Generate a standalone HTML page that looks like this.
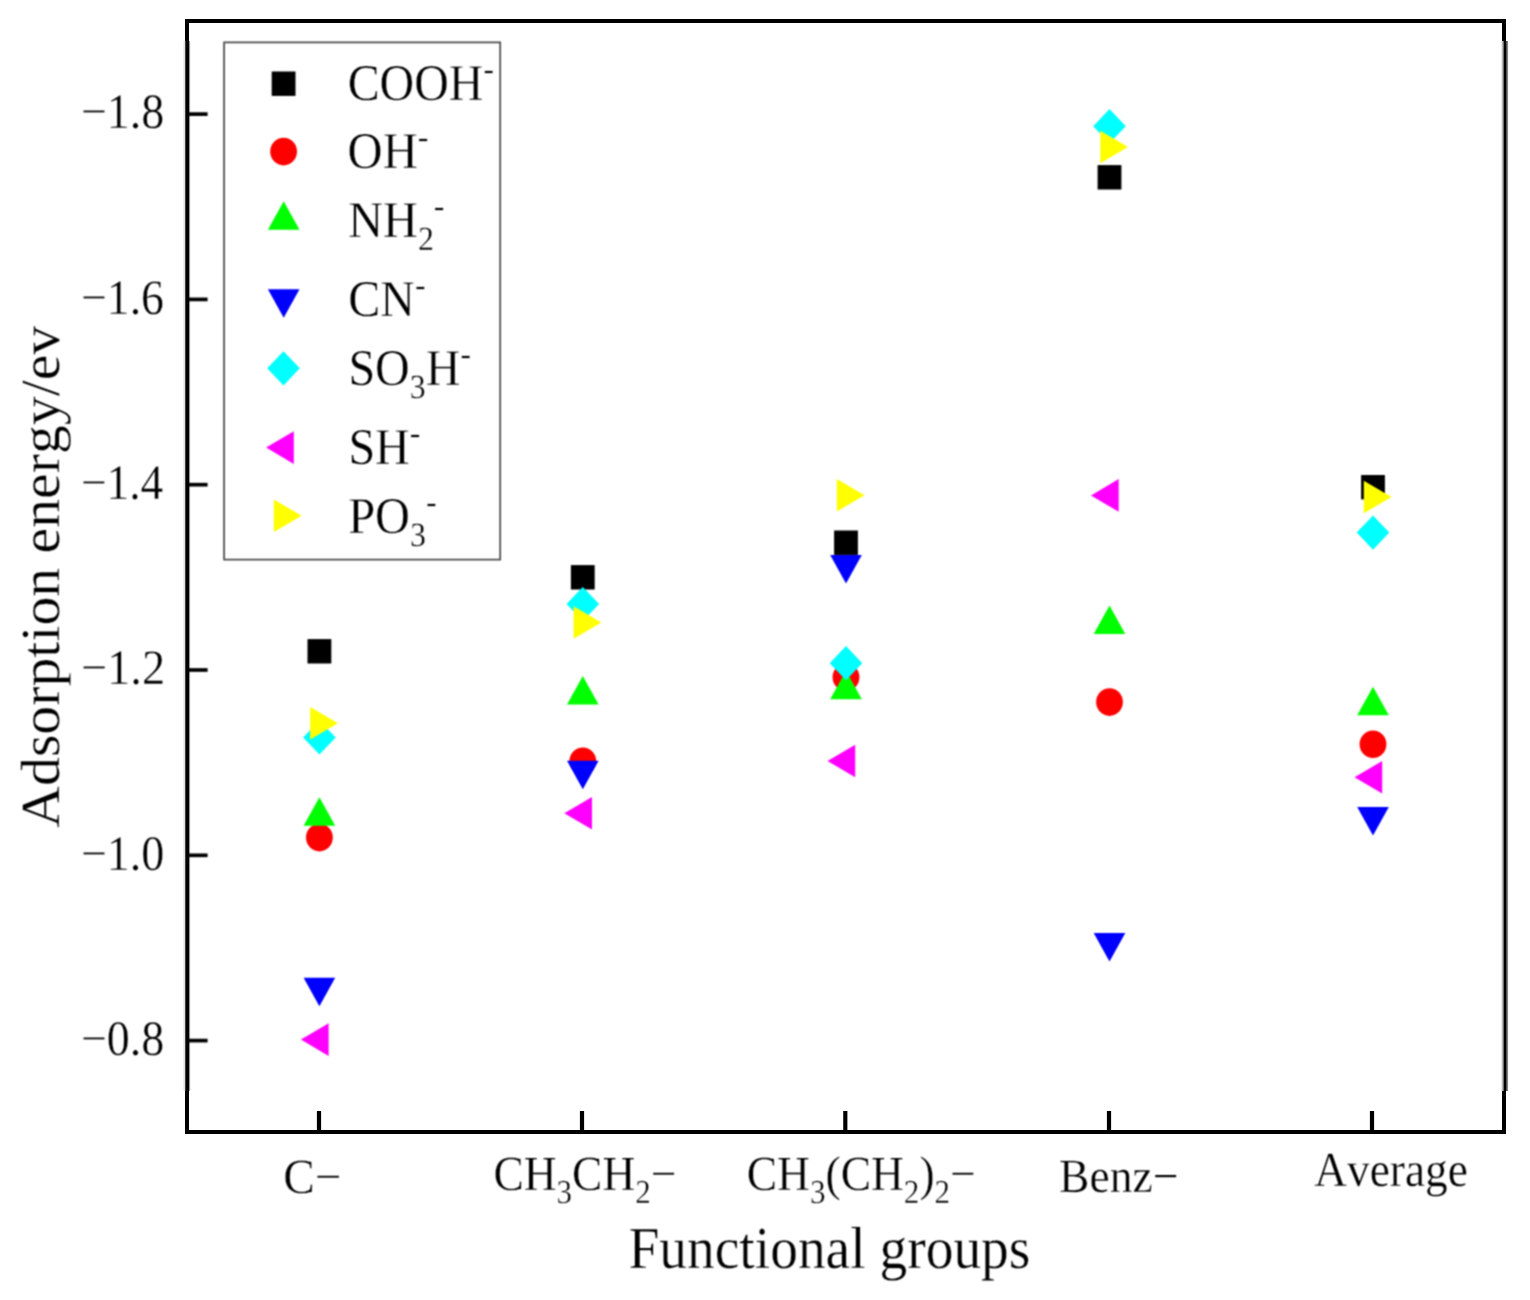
<!DOCTYPE html>
<html lang="en">
<head>
<meta charset="utf-8">
<title>Adsorption energy of functional groups</title>
<style>
html,body{margin:0;padding:0;background:#fff;}
body{width:1530px;height:1300px;overflow:hidden;}
svg{display:block;}
text{white-space:pre;font-kerning:none;font-variant-ligatures:none;text-rendering:geometricPrecision;}
</style>
</head>
<body>
<svg width="1530" height="1300" viewBox="0 0 1530 1300">
<defs>
<filter id="b0" x="-5%" y="-5%" width="110%" height="110%" color-interpolation-filters="sRGB"><feConvolveMatrix order="3" kernelMatrix="1 2 1 2 4 2 1 2 1" edgeMode="none" preserveAlpha="false"/></filter>
</defs>
<rect width="1530" height="1300" fill="#fff"/>
<rect x="187.0" y="21.0" width="1317" height="1111" fill="none" stroke="#000" stroke-width="4"/>
<g shape-rendering="crispEdges">
<rect x="1501" y="41" width="1" height="1050" fill="#ececec"/>
<rect x="1502" y="41" width="1" height="1050" fill="#b6b6b6"/>
<rect x="1503" y="41" width="1" height="1050" fill="#707070"/>
<rect x="1504" y="41" width="1" height="1050" fill="#000000"/>
<rect x="1505" y="41" width="1" height="1050" fill="#000000"/>
<rect x="1506" y="41" width="1" height="1050" fill="#525252"/>
<rect x="1507" y="41" width="1" height="1050" fill="#848484"/>
<rect x="1508" y="41" width="1" height="1050" fill="#f8f8f8"/>
<rect x="183" y="41" width="1" height="1050" fill="#f0f0f0"/>
<rect x="184" y="41" width="1" height="1050" fill="#e2e2e2"/>
<rect x="185" y="41" width="1" height="1050" fill="#404040"/>
<rect x="186" y="41" width="1" height="1050" fill="#000000"/>
<rect x="187" y="41" width="1" height="1050" fill="#000000"/>
<rect x="188" y="41" width="1" height="1050" fill="#000000"/>
<rect x="189" y="41" width="1" height="1050" fill="#969696"/>
<rect x="190" y="41" width="1" height="1050" fill="#f2f2f2"/>
</g>
<g stroke="#000" stroke-width="3.7" fill="none" filter="url(#b0)">
<path d="M188 114.1H207.6"/>
<path d="M188 299.4H207.6"/>
<path d="M188 484.7H207.6"/>
<path d="M188 670.0H207.6"/>
<path d="M188 855.3H207.6"/>
<path d="M188 1040.6H207.6"/>
</g>
<g stroke="#000" stroke-width="4.2" fill="none">
<path d="M319.0 1111V1130"/>
<path d="M582.0 1111V1130"/>
<path d="M845.3 1111V1130"/>
<path d="M1109.0 1111V1130"/>
<path d="M1372.0 1111V1130"/>
</g>
<g font-family="'Liberation Serif', serif" fill="#000" stroke="#fff" stroke-width="0.35" filter="url(#b0)">
<text transform="translate(80.91 128.40) scale(0.9293 1)" font-size="49.5">−1.8</text>
<text transform="translate(80.92 313.70) scale(0.9249 1)" font-size="49.5">−1.6</text>
<text transform="translate(80.94 499.00) scale(0.9174 1)" font-size="49.5">−1.4</text>
<text transform="translate(80.89 684.30) scale(0.9386 1)" font-size="49.5">−1.2</text>
<text transform="translate(80.91 869.60) scale(0.9293 1)" font-size="49.5">−1.0</text>
<text transform="translate(80.91 1054.90) scale(0.9293 1)" font-size="49.5">−0.8</text>
<text transform="translate(283.36 1192.50) scale(0.9640 1)" font-size="49">C−</text>
<text transform="translate(493.44 1190.00) scale(0.9271 1)" font-size="49">CH<tspan font-size="33.5" dy="12.5">3</tspan><tspan dy="-12.5">CH</tspan><tspan font-size="33.5" dy="12.5">2</tspan><tspan dy="-12.5">−</tspan></text>
<text transform="translate(746.73 1190.00) scale(0.9284 1)" font-size="49">CH<tspan font-size="33.5" dy="12.5">3</tspan><tspan dy="-12.5">(CH</tspan><tspan font-size="33.5" dy="12.5">2</tspan><tspan dy="-12.5">)</tspan><tspan font-size="33.5" dy="12.5">2</tspan><tspan dy="-12.5">−</tspan></text>
<text transform="translate(1059.09 1191.50) scale(0.9526 1)" font-size="47.8">Benz−</text>
<text transform="translate(1314.26 1186.30) scale(0.9257 1)" font-size="49" letter-spacing="0">Average</text>
<text transform="translate(628.50 1267.60) scale(0.9317 1)" font-size="59.5">Functional groups</text>
</g>
<g font-family="'Liberation Serif', serif" fill="#000" stroke="#fff" stroke-width="0.35" filter="url(#b0)">
<text transform="translate(59.0 827.66) rotate(-90) scale(0.9954 0.95)" font-size="58">Adsorption energy/ev</text>
</g>
<rect x="224.1" y="42.4" width="276.1" height="517.2" fill="#fff" stroke="#484848" stroke-width="1.7" filter="url(#b0)"/>
<g font-family="'Liberation Serif', serif" fill="#000" stroke="#fff" stroke-width="0.35" filter="url(#b0)">
<text transform="translate(347.63 100.00) scale(0.9311 1)" font-size="51.5">COOH<tspan font-size="34" dy="-19.9">-</tspan></text>
<text transform="translate(347.61 168.20) scale(0.9422 1)" font-size="51.5">OH<tspan font-size="34" dy="-19.9">-</tspan></text>
<text transform="translate(348.21 236.70) scale(0.9371 1)" font-size="51.5">NH<tspan font-size="34" dy="13">2</tspan><tspan font-size="34" dy="-32.9">-</tspan></text>
<text transform="translate(348.23 316.10) scale(0.9318 1)" font-size="51.5">CN<tspan font-size="34" dy="-19.9">-</tspan></text>
<text transform="translate(348.39 384.90) scale(0.9331 1)" font-size="51.5">SO<tspan font-size="34" dy="13">3</tspan><tspan dy="-13">H</tspan><tspan font-size="34" dy="-19.9">-</tspan></text>
<text transform="translate(348.39 463.90) scale(0.9326 1)" font-size="51.5">SH<tspan font-size="34" dy="-19.9">-</tspan></text>
<text transform="translate(348.21 533.10) scale(0.9394 1)" font-size="51.5">PO<tspan font-size="34" dy="13">3</tspan><tspan font-size="34" dy="-32.9">-</tspan></text>
</g>
<g filter="url(#b0)">
<rect x="307.5" y="639.1" width="23.8" height="24.4" fill="#000"/>
<rect x="570.9" y="565.1" width="23.8" height="24.4" fill="#000"/>
<rect x="834.1" y="530.5" width="23.8" height="24.4" fill="#000"/>
<rect x="1097.6" y="165.1" width="23.8" height="24.4" fill="#000"/>
<rect x="1361.1" y="475.0" width="23.8" height="24.4" fill="#000"/>
<ellipse cx="319.4" cy="837.6" rx="13.4" ry="13.8" fill="#f00"/>
<ellipse cx="582.8" cy="761.3" rx="13.4" ry="13.8" fill="#f00"/>
<ellipse cx="846.0" cy="677.3" rx="13.4" ry="13.8" fill="#f00"/>
<ellipse cx="1109.5" cy="702.1" rx="13.4" ry="13.8" fill="#f00"/>
<ellipse cx="1373.0" cy="744.3" rx="13.4" ry="13.8" fill="#f00"/>
<path d="M319.4 797.2L335.2 825.7H303.6Z" fill="#0f0"/>
<path d="M582.8 676.0L598.6 704.5H567.0Z" fill="#0f0"/>
<path d="M846.0 670.7L861.8 699.2H830.2Z" fill="#0f0"/>
<path d="M1109.5 605.5L1125.3 634.0H1093.7Z" fill="#0f0"/>
<path d="M1373.0 686.8L1388.8 715.3H1357.2Z" fill="#0f0"/>
<path d="M319.4 1006.3L335.2 977.8H303.6Z" fill="#00f"/>
<path d="M582.8 789.3L598.6 760.8H567.0Z" fill="#00f"/>
<path d="M846.0 583.4L861.8 554.9H830.2Z" fill="#00f"/>
<path d="M1109.5 961.6L1125.3 933.1H1093.7Z" fill="#00f"/>
<path d="M1373.0 835.5L1388.8 807.0H1357.2Z" fill="#00f"/>
<path d="M319.4 720.4L335.7 737.5L319.4 754.6L303.1 737.5Z" fill="#0ff"/>
<path d="M582.8 586.9L599.1 604.0L582.8 621.1L566.5 604.0Z" fill="#0ff"/>
<path d="M846.0 646.1L862.3 663.2L846.0 680.3L829.7 663.2Z" fill="#0ff"/>
<path d="M1109.5 109.1L1125.8 126.2L1109.5 143.3L1093.2 126.2Z" fill="#0ff"/>
<path d="M1373.0 515.5L1389.3 532.6L1373.0 549.7L1356.7 532.6Z" fill="#0ff"/>
<path d="M300.9 1039.6L328.6 1023.3V1055.9Z" fill="#f0f"/>
<path d="M564.3 813.3L592.0 797.0V829.6Z" fill="#f0f"/>
<path d="M827.5 761.0L855.2 744.7V777.3Z" fill="#f0f"/>
<path d="M1091.0 495.4L1118.7 479.1V511.7Z" fill="#f0f"/>
<path d="M1354.5 777.2L1382.2 760.9V793.5Z" fill="#f0f"/>
<path d="M337.9 723.3L310.2 707.0V739.6Z" fill="#ff0"/>
<path d="M601.3 622.5L573.6 606.2V638.8Z" fill="#ff0"/>
<path d="M864.5 495.2L836.8 478.9V511.5Z" fill="#ff0"/>
<path d="M1128.0 147.0L1100.3 130.7V163.3Z" fill="#ff0"/>
<path d="M1391.5 497.0L1363.8 480.7V513.3Z" fill="#ff0"/>
<rect x="271.7" y="71.5" width="23.8" height="24.4" fill="#000"/>
<ellipse cx="283.6" cy="151.6" rx="13.4" ry="13.8" fill="#f00"/>
<path d="M283.7 201.2L299.5 229.7H267.9Z" fill="#0f0"/>
<path d="M283.7 317.8L299.5 289.3H267.9Z" fill="#00f"/>
<path d="M283.5 351.2L299.8 368.3L283.5 385.4L267.2 368.3Z" fill="#0ff"/>
<path d="M266.1 447.6L293.8 431.3V463.9Z" fill="#f0f"/>
<path d="M301.5 515.8L273.8 499.5V532.1Z" fill="#ff0"/>
</g>
</svg>
</body>
</html>
